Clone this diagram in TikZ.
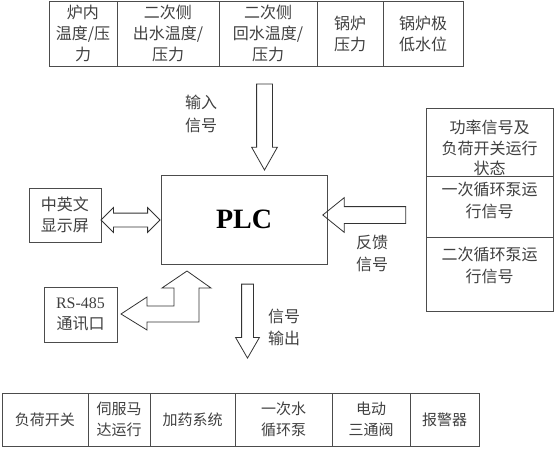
\documentclass[tikz,border=0pt]{standalone}
\usepackage{fontspec}
\setmainfont{Liberation Serif}
\newfontfamily\cjk{Noto Sans CJK SC}
\usepackage{tikz}
\usetikzlibrary{shapes.arrows}

\begin{document}
\begin{tikzpicture}[
	x=1pt, y=-1pt,
	cell/.style={rectangle, draw=black!70, line width=0.8pt, inner sep=0pt, align=center,
		font=\cjk\fontsize{16}{21}\selectfont, text=black!75},
	lowcell/.style={cell, minimum height=53, font=\cjk\fontsize{15}{21}\selectfont},
	txt/.style={align=center, inner sep=0pt, font=\cjk\fontsize{16}{22}\selectfont, text=black!75},
	bigarrow/.style={single arrow, draw=black!80, line width=0.8pt,
		single arrow head indent=0pt},
	twoarrow/.style={double arrow, draw=black!80, line width=0.8pt,
		double arrow head indent=0pt}
	]
	\useasboundingbox (0,0) rectangle (558,450);
	
	% Row 1: input signals
	\node[cell, minimum width=68, minimum height=65] (furnace) at (83,33.5) {炉内\\温度/压\\力};
	\node[cell, minimum width=102, minimum height=65] (secout) at (168,33.5) {二次侧\\出水温度/\\压力};
	\node[cell, minimum width=98, minimum height=65] (secret) at (268,33.5) {二次侧\\回水温度/\\压力};
	\node[cell, minimum width=66, minimum height=65] (boiler) at (350,33.5) {锅炉\\压力};
	\node[cell, minimum width=80, minimum height=65] (lowlevel) at (423,33.5) {锅炉极\\低水位};
	
	% Row 2: controller and its peripherals
	\node[cell, minimum width=166, minimum height=89, font=\bfseries\fontsize{28}{30}\selectfont,
		text=black] (plc) at (244,219.5) {PLC};
	\node[cell, minimum width=72, minimum height=54] (screen) at (65,215) {中英文\\显示屏};
	\node[cell, minimum width=73, minimum height=55] (rs) at (80.5,314.5)
		{{\rmfamily RS-485}\\通讯口};
	
	% Feedback stack on the right
	\node[cell, minimum width=127, minimum height=68] (power) at (489.5,142) {};
	\node[cell, minimum width=127, minimum height=61] (pump1) at (489.5,206.5) {};
	\node[cell, minimum width=127, minimum height=74] (pump2) at (489.5,274) {};
	\node[txt, font=\cjk\fontsize{16}{20.5}\selectfont] (powertxt) at (489.5,148) {功率信号及\\负荷开关运行\\状态};
	\node[txt] (pump1txt) at (489.5,200) {一次循环泵运\\行信号};
	\node[txt] (pump2txt) at (489.5,265) {二次循环泵运\\行信号};
	
	% Row 3: outputs
	\node[lowcell, minimum width=86] (load) at (45,419.5) {负荷开关};
	\node[lowcell, minimum width=62] (servo) at (119,419.5) {伺服马\\达运行};
	\node[lowcell, minimum width=85] (dosing) at (192.5,419.5) {加药系统};
	\node[lowcell, minimum width=97] (prim) at (283.5,419.5) {一次水\\循环泵};
	\node[lowcell, minimum width=78] (valve) at (371,419.5) {电动\\三通阀};
	\node[lowcell, minimum width=69] (alarm) at (444.5,419.5) {报警器};
	
	% Block arrows
	\node[bigarrow, shape border rotate=270, minimum height=86, inner sep=7.5,
		single arrow head extend=5, single arrow tip angle=59] (inarrow) at (264.5,120) {};
	\node[bigarrow, shape border rotate=270, minimum height=74, inner sep=5.5,
		single arrow head extend=6, single arrow tip angle=60] (outarrow) at (247.5,316) {};
	\node[bigarrow, shape border rotate=180, minimum height=83, inner sep=8,
		single arrow head extend=9, single arrow tip angle=78] (fbarrow) at (369.5,215) {};
	\node[twoarrow, minimum height=59, inner sep=6.5,
		double arrow head extend=5.5, double arrow tip angle=90] (scrarrow) at (130.5,220) {};
	
	% RS-485 link
	\draw[draw=black!80, line width=0.8pt, line join=miter]
		(121,314) -- (147,297) -- (147,306) -- (174,306) -- (174,288) -- (162,288)
		-- (187,271) -- (211,288) -- (199,288) -- (199,322) -- (147,322) -- (147,330) -- cycle;
	
	% Arrow labels
	\node[txt, font=\cjk\fontsize{16}{23}\selectfont] (inlabel) at (201,114) {输入\\信号};
	\node[txt] (outlabel) at (284,327) {信号\\输出};
	\node[txt] (fblabel) at (372,253) {反馈\\信号};
	
\end{tikzpicture}
\end{document}
